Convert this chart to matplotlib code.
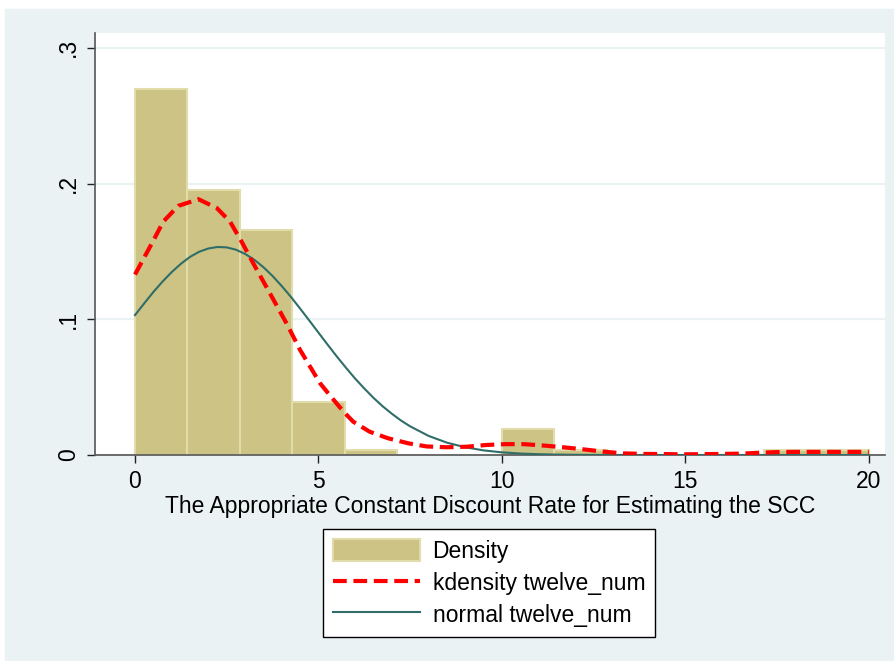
import matplotlib
matplotlib.use("Agg")
import matplotlib.pyplot as plt
from matplotlib.patches import Rectangle, Patch
from matplotlib.lines import Line2D

plt.rcParams['font.family'] = ['Liberation Sans', 'DejaVu Sans']

# histogram of twelve_num: 14 bins over [0, 20], density scale
bin_edges = [0, 1.4286, 2.8571, 4.2857, 5.7143, 7.1429, 8.5714, 10.0,
             11.4286, 12.8571, 14.2857, 15.7143, 17.1429, 18.5714, 20.0]
bin_density = [0.270, 0.195, 0.166, 0.039, 0.004, 0.0, 0.0,
               0.0195, 0.004, 0.0, 0.0, 0.0, 0.004, 0.004]

# kernel density estimate
kde_x = [0, 0.5, 0.77, 1.18, 1.73, 2.23, 2.59, 2.91, 3.22, 3.68, 4.13, 4.5,
         5.04, 5.31, 5.68, 5.95, 6.4, 6.9, 7.45, 7.95, 8.49, 9.04, 9.58,
         10.1, 10.6, 11.17, 11.67, 12.21, 12.76, 13.3, 13.85, 14.35, 14.9,
         15.44, 15.99, 16.53, 17.03, 17.57, 18.12, 18.66, 19.2, 19.75, 20.0]
kde_y = [0.133, 0.158, 0.172, 0.1836, 0.1885, 0.182, 0.172, 0.157, 0.1414,
         0.119, 0.097, 0.0774, 0.053, 0.044, 0.032, 0.0245, 0.0171, 0.0123,
         0.0086, 0.0063, 0.0057, 0.0061, 0.0074, 0.008, 0.008, 0.0069,
         0.0057, 0.0042, 0.0025, 0.0012, 0.0008, 0.0007, 0.0005, 0.0006,
         0.0008, 0.001, 0.0017, 0.0022, 0.0023, 0.0023, 0.0023, 0.0023,
         0.0023]

# normal density with the sample mean / sd
norm_x = [0, 0.25, 0.5, 0.75, 1.0, 1.25, 1.5, 1.75, 2.0, 2.25, 2.5, 2.75,
          3.0, 3.25, 3.5, 3.75, 4.0, 4.25, 4.5, 4.75, 5.0, 5.25, 5.5, 5.75,
          6.0, 6.25, 6.5, 6.75, 7.0, 7.25, 7.5, 8.0, 8.5, 9.0, 9.5, 10.0,
          10.5, 11.0, 11.5, 12.0, 12.5, 13.0, 14.0, 16.0, 18.0, 20.0]
norm_y = [0.1031, 0.1117, 0.1201, 0.1278, 0.1348, 0.1409, 0.1460, 0.1498,
          0.1522, 0.1533, 0.1530, 0.1513, 0.1482, 0.1439, 0.1384, 0.1319,
          0.1245, 0.1165, 0.1079, 0.0991, 0.0902, 0.0813, 0.0726, 0.0643,
          0.0563, 0.0490, 0.0421, 0.0359, 0.0304, 0.0254, 0.0211, 0.0141,
          0.0091, 0.0057, 0.0034, 0.00195, 0.00109, 0.00058, 0.0003,
          0.00015, 0.00007, 0.00003, 0.0, 0.0, 0.0, 0.0]

y_ticks = [0, 0.1, 0.2, 0.3]
y_ticklabels = ['0', '.1', '.2', '.3']
x_ticks = [0, 5, 10, 15, 20]

bg = '#EAF2F3'
bar_fill = '#CCC384'
bar_edge = '#E2DBAA'
teal = '#2F6E68'
fs = 16.5

W, H = 895, 661
fig = plt.figure(figsize=(W / 100, H / 100), dpi=100)
fig.patches.append(Rectangle((5 / W, 0), 890 / W, 652 / H,
                             transform=fig.transFigure, color=bg, zorder=-10))

ax = fig.add_axes([95 / W, 1 - 455 / H, 790 / W, 422 / H])
ax.set_facecolor('white')
ax.set_xlim(-1.09, 20.44)
ax.set_ylim(0, 0.311)

for i, d in enumerate(bin_density):
    if d > 0:
        ax.bar(bin_edges[i], d, width=bin_edges[i + 1] - bin_edges[i],
               align='edge', color=bar_fill, edgecolor=bar_edge,
               linewidth=1.5, zorder=2)

kde_line, = ax.plot(kde_x, kde_y, color='red', lw=3.0, zorder=4,
                    solid_capstyle='butt', dash_capstyle='butt',
                    solid_joinstyle='round')
kde_line.set_dashes([3.3, 1.6])
ax.plot(norm_x, norm_y, color=teal, lw=1.5, zorder=3)

ax.set_yticks(y_ticks)
ax.set_yticklabels(y_ticklabels, rotation=90, va='center')
ax.set_xticks(x_ticks)
ax.tick_params(axis='both', direction='out', length=6, width=1,
               color='#222222', labelsize=fs)
ax.tick_params(axis='x', pad=5)
ax.tick_params(axis='y', pad=5)
ax.grid(axis='y', color=bg, lw=1.6)
ax.set_axisbelow(True)

for side in ['top', 'right']:
    ax.spines[side].set_visible(False)
for side in ['left', 'bottom']:
    ax.spines[side].set_color('#555555')
    ax.spines[side].set_linewidth(1.2)

ax.set_xlabel('The Appropriate Constant Discount Rate for Estimating the SCC',
              fontsize=fs, labelpad=1)

handles = [
    Patch(facecolor=bar_fill, edgecolor=bar_edge, linewidth=1.5),
    Line2D([], [], color='red', lw=3.0, dashes=[3.3, 1.6],
           dash_capstyle='butt'),
    Line2D([], [], color=teal, lw=1.5),
]
labels = ['Density', 'kdensity twelve_num', 'normal twelve_num']
leg = fig.legend(handles, labels, loc='upper center',
                 bbox_to_anchor=(489 / W, 1 - 529 / H), fontsize=fs,
                 frameon=True, fancybox=False, edgecolor='black',
                 framealpha=1, handlelength=3.8, handleheight=1.1,
                 handletextpad=0.55, labelspacing=0.35, borderpad=0.45,
                 borderaxespad=0)
leg.get_frame().set_linewidth(1.0)

fig.savefig('out.png', dpi=100, facecolor='white')
